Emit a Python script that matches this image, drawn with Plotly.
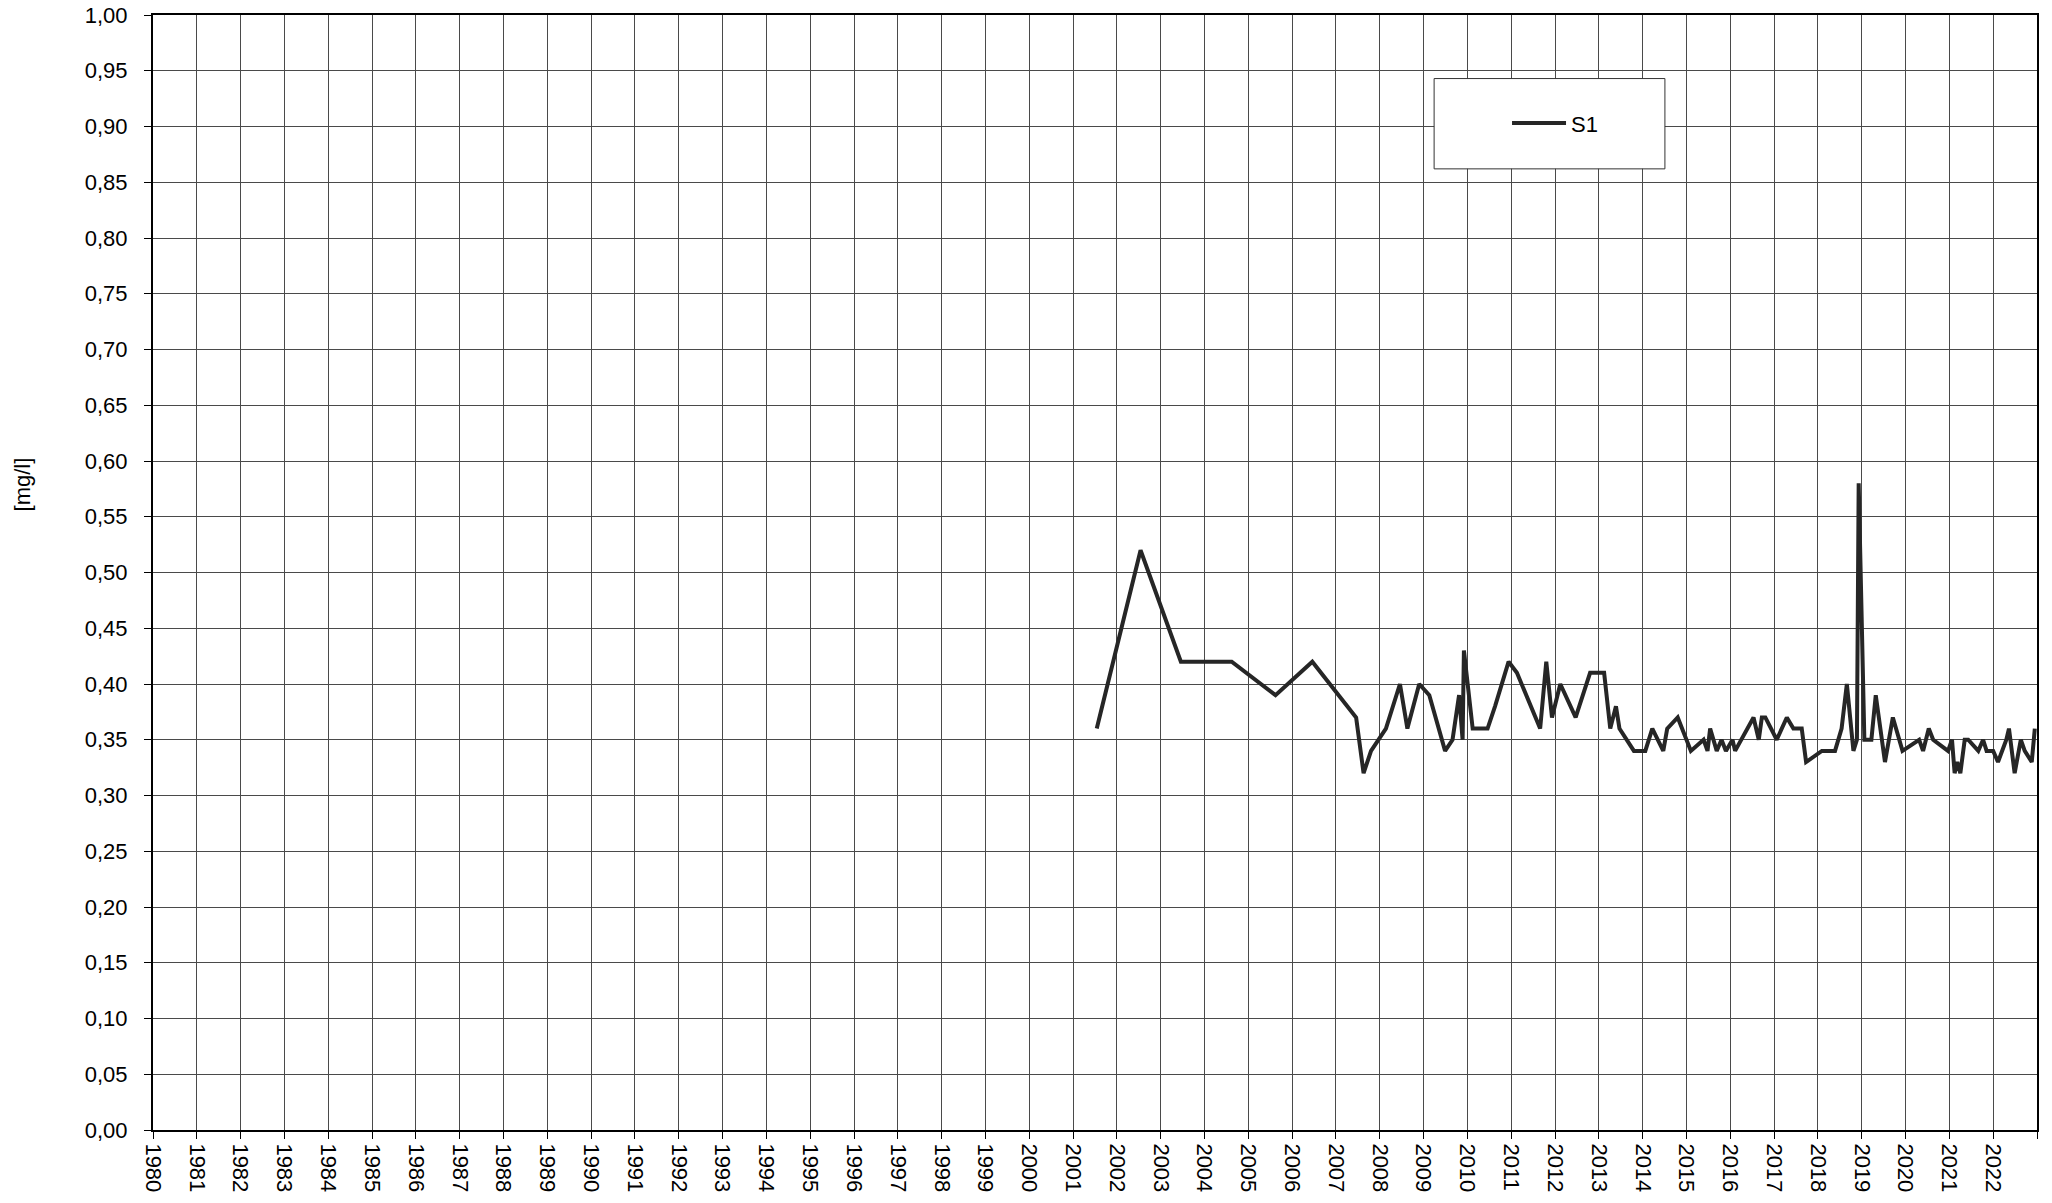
import plotly.graph_objects as go

# Sampling dates (decimal years) and values [mg/l] for series S1
years = [2001.54, 2002.54, 2003.46, 2004.62, 2005.62, 2006.46, 2007.46, 2007.63, 2007.80,
         2008.14, 2008.46, 2008.63, 2008.90, 2009.13, 2009.49, 2009.66, 2009.81, 2009.89,
         2009.92, 2010.12, 2010.46, 2010.63, 2010.94, 2011.13, 2011.66, 2011.80, 2011.93,
         2012.12, 2012.47, 2012.80, 2013.12, 2013.26, 2013.39, 2013.47, 2013.80, 2014.06,
         2014.22, 2014.47, 2014.56, 2014.80, 2015.10, 2015.39, 2015.48, 2015.54, 2015.69,
         2015.80, 2015.90, 2016.05, 2016.11, 2016.53, 2016.65, 2016.72, 2016.80, 2017.06,
         2017.29, 2017.44, 2017.63, 2017.73, 2018.09, 2018.39, 2018.54, 2018.66, 2018.81,
         2018.89, 2018.93, 2019.06, 2019.22, 2019.32, 2019.53, 2019.71, 2019.93, 2020.31,
         2020.40, 2020.53, 2020.63, 2020.97, 2021.06, 2021.12, 2021.18, 2021.25, 2021.35,
         2021.43, 2021.66, 2021.77, 2021.85, 2022.00, 2022.11, 2022.30, 2022.36, 2022.42,
         2022.49, 2022.63, 2022.72, 2022.88, 2022.95]
values = [0.36, 0.52, 0.42, 0.42, 0.39, 0.42, 0.37, 0.32, 0.34,
          0.36, 0.40, 0.36, 0.40, 0.39, 0.34, 0.35, 0.39, 0.35,
          0.43, 0.36, 0.36, 0.38, 0.42, 0.41, 0.36, 0.42, 0.37,
          0.40, 0.37, 0.41, 0.41, 0.36, 0.38, 0.36, 0.34, 0.34,
          0.36, 0.34, 0.36, 0.37, 0.34, 0.35, 0.34, 0.36, 0.34,
          0.35, 0.34, 0.35, 0.34, 0.37, 0.35, 0.37, 0.37, 0.35,
          0.37, 0.36, 0.36, 0.33, 0.34, 0.34, 0.36, 0.40, 0.34,
          0.35, 0.58, 0.35, 0.35, 0.39, 0.33, 0.37, 0.34, 0.35,
          0.34, 0.36, 0.35, 0.34, 0.35, 0.32, 0.33, 0.32, 0.35,
          0.35, 0.34, 0.35, 0.34, 0.34, 0.33, 0.35, 0.36, 0.34,
          0.32, 0.35, 0.34, 0.33, 0.36]

series_name = "S1"
x_tick_years = list(range(1980, 2024))
x_tick_labels = [str(y) if y < 2023 else "" for y in x_tick_years]
y_tick_values = [round(i * 0.05, 2) for i in range(21)]
y_title = "[mg/l]"

FONT = "Liberation Sans, Arial, sans-serif"
FS = 22

fig = go.Figure()
fig.add_trace(go.Scatter(
    x=years, y=values, mode="lines", name=series_name,
    line=dict(color="#262626", width=4),
))

fig.update_layout(
    width=2052, height=1203,
    margin=dict(l=153, r=15, t=15, b=73, autoexpand=False),
    paper_bgcolor="white", plot_bgcolor="white",
    separators=", ",
    font=dict(family=FONT, size=FS, color="black"),
    showlegend=True,
    legend=dict(
        x=0.7187, y=0.903, xanchor="left", yanchor="middle",
        bgcolor="rgba(0,0,0,0)", borderwidth=0, itemwidth=54,
        font=dict(family=FONT, size=FS, color="black"),
    ),
    shapes=[dict(
        type="rect", xref="paper", yref="paper",
        x0=0.680, x1=0.8025, y0=0.862, y1=0.943,
        line=dict(color="#333333", width=1), fillcolor="white", layer="above",
    )],
    annotations=[dict(
        text=y_title, xref="paper", yref="paper", x=-0.0695, y=0.579,
        showarrow=False, textangle=-90, font=dict(family=FONT, size=FS, color="black"),
        xanchor="center", yanchor="middle",
    )],
)

fig.update_xaxes(
    range=[1980, 2023], tickmode="array", tickvals=x_tick_years, ticktext=x_tick_labels,
    tickangle=90, ticks="outside", ticklen=7, tickcolor="black", tickwidth=1,
    showgrid=True, gridcolor="#4a4a4a", gridwidth=1, automargin=False,
    ticklabeloverflow="allow",
    showline=True, linecolor="black", linewidth=2, mirror=True,
    zeroline=False, tickfont=dict(family=FONT, size=FS, color="black"),
)
fig.update_yaxes(
    range=[0, 1.0], tickmode="array", tickvals=y_tick_values, tickformat=".2f",
    ticks="outside", ticklen=7, tickcolor="black", tickwidth=1, ticklabelstandoff=12,
    showgrid=True, gridcolor="#4a4a4a", gridwidth=1, automargin=False,
    ticklabeloverflow="allow",
    showline=True, linecolor="black", linewidth=2, mirror=True,
    zeroline=False, tickfont=dict(family=FONT, size=FS, color="black"),
)

fig.write_html(
    "out.html",
    config={"displayModeBar": False, "staticPlot": True},
    post_script="document.body.style.margin='0';document.body.style.overflow='hidden';",
)
